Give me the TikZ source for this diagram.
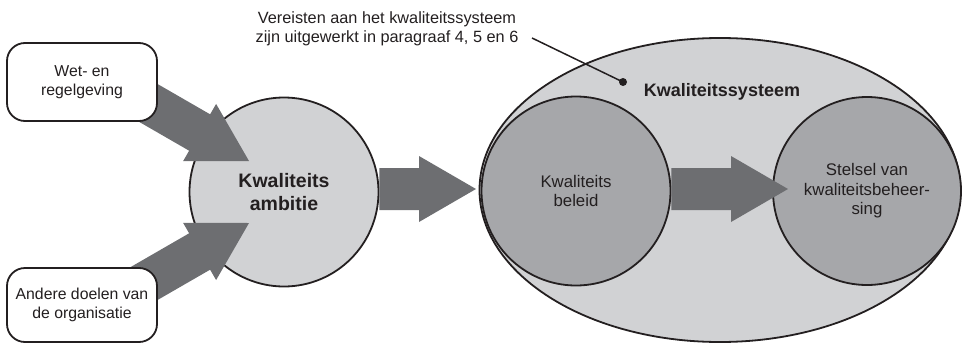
\documentclass[tikz,border=0pt]{standalone}
\usepackage{fontspec}
\setmainfont{Liberation Sans}
\usetikzlibrary{shapes.geometric,calc}
\definecolor{lightfill}{RGB}{209,210,212}
\definecolor{midfill}{RGB}{166,167,170}
\definecolor{arrowgray}{RGB}{109,110,113}
\definecolor{txt}{RGB}{35,31,32}
\newcommand\szNote{\fontsize{16.3}{19}\selectfont}
\newcommand\szBoxT{\fontsize{15.8}{19.5}\selectfont}
\newcommand\szIn{\fontsize{16.8}{19.5}\selectfont}
\newcommand\szAmb{\fontsize{19.5}{23}\selectfont\bfseries}
\newcommand\szSys{\fontsize{18}{21}\selectfont\bfseries}
\newcommand\blockarrow[2]{%
  \fill[arrowgray] (#2)
    -- ($(#2)!57pt!(#1)!33pt!90:(#1)$)
    -- ($(#2)!57pt!(#1)!21pt!90:(#1)$)
    -- ($(#1)!21pt!-90:(#2)$)
    -- ($(#1)!21pt!90:(#2)$)
    -- ($(#2)!57pt!(#1)!21pt!-90:(#1)$)
    -- ($(#2)!57pt!(#1)!33pt!-90:(#1)$)
    -- cycle;}
\begin{document}
\begin{tikzpicture}[x=1pt,y=-1pt,line width=1.8pt,
  every node/.style={text=txt},
  textbox/.style={draw=txt, fill=white, rounded corners=18pt, minimum width=150pt,
    inner sep=0pt, align=center, font=\szBoxT},
  roundel/.style={draw=txt, circle, inner sep=0pt, align=center},
  outline/.style={draw=txt}]
\useasboundingbox (0,0) rectangle (962,343);
% outer ellipse
\node[ellipse, outline, fill=lightfill, minimum width=481pt, minimum height=304pt,
  inner sep=0pt] (sys) at (720,190) {};
% inner circles
\node[roundel, fill=midfill, minimum size=189pt, font=\szIn] (bel) at (576,191)
  {Kwaliteits\\beleid};
\node[roundel, fill=midfill, minimum size=188pt, font=\szIn] (stel) at (867,191)
  {Stelsel van\\kwaliteitsbeheer-\\sing};
% ambition circle
\node[roundel, fill=lightfill, minimum size=189pt, font=\szAmb] (amb) at (284,192)
  {Kwaliteits\\ambitie};
% arrows
\coordinate (a1s) at (93,71);   \coordinate (a1t) at (249,161);
\coordinate (a2s) at (93,313);  \coordinate (a2t) at (249,223);
\coordinate (a3s) at ($(amb.east)+(0,-3)$); \coordinate (a3t) at (476,189);
\coordinate (a4s) at ($(bel.east)+(0,-2)$); \coordinate (a4t) at (788,189);
\blockarrow{a1s}{a1t}
\blockarrow{a2s}{a2t}
\blockarrow{a3s}{a3t}
\blockarrow{a4s}{a4t}
% input boxes
\node[textbox, minimum height=78pt] (wet) at (82,82) {Wet- en\\regelgeving};
\node[textbox, minimum height=74pt] (andere) at (82,305) {Andere doelen van\\de organisatie};
% system label and annotation
\node[font=\szSys] (systxt) at (722,92) {Kwaliteitssysteem};
\node[circle, fill=txt, inner sep=0pt, minimum size=8pt] (dot) at (623,82) {};
\node[align=center, font=\szNote] (note) at (387,29)
  {Vereisten aan het kwaliteitssysteem\\zijn uitgewerkt in paragraaf 4, 5 en 6};
\coordinate (lead) at (532,38);
\draw[txt, line width=1.5pt] (lead) -- (dot.center);
\end{tikzpicture}
\end{document}
